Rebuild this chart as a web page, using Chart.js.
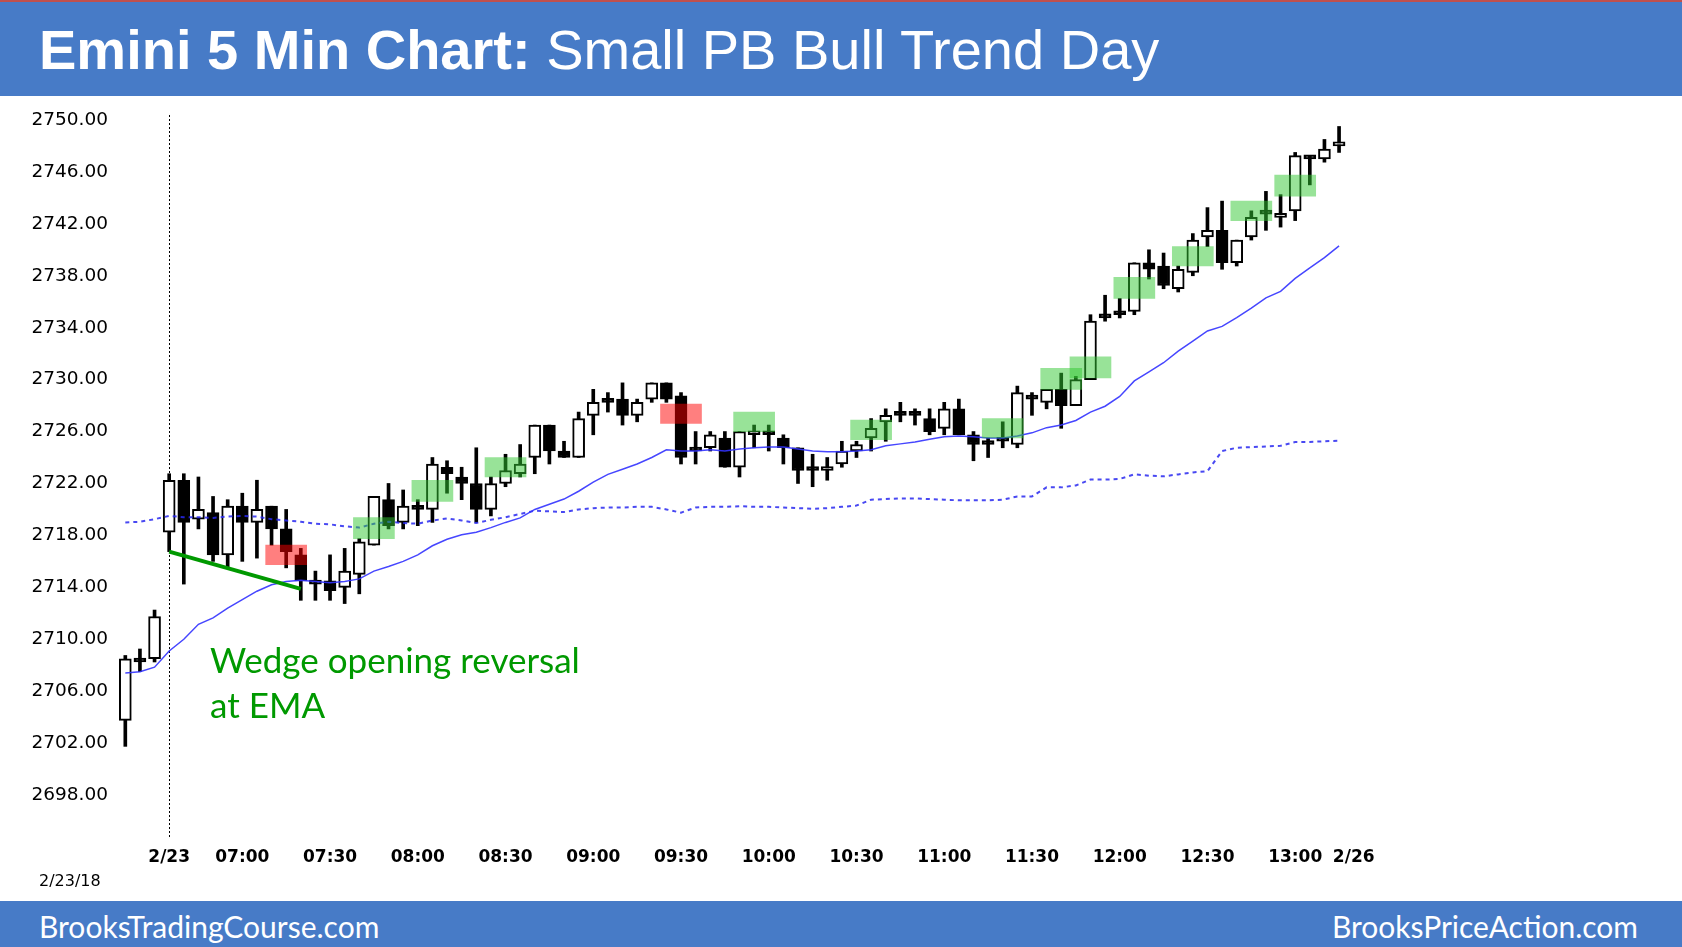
<!DOCTYPE html>
<html>
<head>
<meta charset="utf-8">
<title>Emini 5 Min Chart</title>
<script src="https://cdn.jsdelivr.net/npm/chart.js@4.4.1/dist/chart.umd.min.js"></script>
<style>
  html, body { margin: 0; padding: 0; background: #fff; }
  body { width: 1682px; height: 947px; position: relative; overflow: hidden; }
  #grafico { position: absolute; left: 0; top: 0; }
  .faixa { position: absolute; left: 0; width: 1682px; background: #477bc7; }
  #topo { top: 0; height: 96px; border-top: 2px solid #c0504d; box-sizing: border-box; }
  #rodape { top: 901px; height: 46px; }
  #titulo { position: absolute; left: 39px; top: 22px; font: 56px/56px "Liberation Sans", Arial, sans-serif; color: #fff; white-space: nowrap; }
  #titulo b { font-weight: bold; }
  .site { position: absolute; top: 911px; font: 30px/30px Lato, sans-serif; color: #fff; white-space: nowrap; }
  #site1 { left: 39px; }
  #site2 { right: 44px; }
  #nota { position: absolute; left: 210px; top: 637px; font: 35px/45px Lato, sans-serif; color: #009900; white-space: nowrap; }
  #data { position: absolute; left: 39px; top: 873px; font: 16px/16px "DejaVu Sans", sans-serif; color: #000; }
</style>
</head>
<body>
<canvas id="grafico" width="1682" height="947"></canvas>
<div id="topo" class="faixa"></div>
<div id="titulo"><b>Emini 5 Min Chart:</b> Small PB Bull Trend Day</div>
<div id="rodape" class="faixa"></div>
<div id="site1" class="site">BrooksTradingCourse.com</div>
<div id="site2" class="site">BrooksPriceAction.com</div>
<div id="nota">Wedge opening reversal<br>at EMA</div>
<div id="data">2/23/18</div>
<script>
// Barras de 5 minutos (hora de fechamento): 3 barras do fim de 2/22, a sessão de 2/23 e a abertura de 2/26
function hhmm(m) {
  return String(Math.floor(m / 60)).padStart(2, '0') + ':' + String(m % 60).padStart(2, '0');
}
const categories = ['2/22 13:05', '2/22 13:10', '2/22 13:15'];
for (let m = 6 * 60 + 35; m <= 13 * 60 + 15; m += 5) categories.push('2/23 ' + hhmm(m));
categories.push('2/26 06:35');

const opens = [2703.75, 2708.5, 2708.5,
  2718.25, 2722.25, 2719.25, 2719.75, 2716.5, 2720.25, 2719.0, 2720.25, 2718.5, 2716.5,
  2714.5, 2714.5, 2714.0, 2715.0, 2717.25, 2720.75, 2719.0, 2720.0, 2720.0, 2723.25,
  2722.5, 2722.0, 2720.0, 2722.0, 2722.75, 2724.0, 2726.5, 2724.5, 2724.0, 2727.25,
  2728.25, 2728.5, 2727.25, 2728.5, 2729.75, 2728.75, 2724.5, 2724.75, 2725.5, 2723.25,
  2725.75, 2726.0, 2725.5, 2724.75, 2723.0, 2723.0, 2723.5, 2724.5, 2725.5, 2726.75,
  2727.25, 2727.5, 2727.0, 2726.25, 2727.75, 2725.75, 2725.0, 2725.25, 2725.0, 2728.75,
  2728.25, 2729.25, 2728.0, 2730.0, 2734.75, 2735.25, 2735.25, 2739.0, 2738.75, 2737.0,
  2738.25, 2741.0, 2741.5, 2739.0, 2741.0, 2742.75, 2742.5, 2743.0, 2747.25, 2747.0,
  2748.0];
const highs = [2708.75, 2709.25, 2712.25,
  2722.75, 2722.75, 2722.5, 2721.0, 2720.75, 2721.25, 2722.25, 2720.25, 2720.0, 2717.0,
  2715.25, 2716.5, 2717.0, 2717.75, 2721.0, 2722.0, 2721.5, 2720.75, 2724.0, 2723.75,
  2723.25, 2724.75, 2722.5, 2724.25, 2725.0, 2726.5, 2726.5, 2725.25, 2727.5, 2729.25,
  2729.0, 2729.75, 2728.5, 2729.75, 2729.75, 2729.0, 2726.0, 2726.0, 2726.0, 2726.0,
  2726.5, 2726.5, 2725.75, 2724.75, 2724.25, 2724.0, 2725.25, 2725.25, 2727.0, 2727.75,
  2728.25, 2727.75, 2727.75, 2728.25, 2728.5, 2726.0, 2725.5, 2726.75, 2729.5, 2729.0,
  2729.25, 2730.5, 2730.25, 2735.0, 2736.5, 2736.25, 2739.0, 2740.0, 2739.75, 2738.75,
  2741.25, 2743.25, 2743.75, 2740.75, 2743.0, 2744.5, 2744.25, 2747.5, 2747.25, 2748.5,
  2749.5];
const lows = [2701.75, 2707.5, 2708.25,
  2716.75, 2714.25, 2718.5, 2716.0, 2715.5, 2716.0, 2716.25, 2717.25, 2715.5, 2713.0,
  2713.0, 2713.0, 2712.75, 2713.5, 2717.25, 2718.5, 2718.5, 2718.75, 2719.0, 2721.25,
  2720.75, 2719.0, 2719.5, 2721.75, 2722.5, 2722.75, 2723.5, 2724.0, 2724.0, 2725.75,
  2727.5, 2726.5, 2726.75, 2728.25, 2728.25, 2723.5, 2723.5, 2724.5, 2723.25, 2722.5,
  2724.75, 2724.5, 2723.5, 2722.0, 2721.75, 2722.25, 2723.25, 2724.0, 2724.5, 2725.25,
  2726.75, 2726.5, 2725.75, 2725.75, 2725.75, 2723.75, 2724.0, 2724.75, 2724.75, 2727.25,
  2727.75, 2726.25, 2728.0, 2730.0, 2734.5, 2734.75, 2735.0, 2737.75, 2737.0, 2736.75,
  2738.0, 2740.25, 2738.5, 2738.75, 2740.75, 2741.5, 2741.75, 2742.25, 2745.0, 2746.75,
  2747.5];
const closes = [2708.5, 2708.25, 2711.75,
  2722.25, 2719.0, 2720.0, 2716.5, 2720.25, 2719.0, 2720.0, 2718.5, 2716.75, 2714.5,
  2714.25, 2713.75, 2715.25, 2717.5, 2721.0, 2718.75, 2720.25, 2720.0, 2723.5, 2722.75,
  2722.0, 2720.0, 2722.0, 2723.0, 2723.5, 2726.5, 2724.5, 2724.0, 2727.0, 2728.25,
  2728.25, 2727.25, 2728.25, 2729.75, 2728.5, 2724.0, 2724.5, 2725.75, 2723.25, 2726.0,
  2726.0, 2725.75, 2724.75, 2723.0, 2723.0, 2723.25, 2724.5, 2725.0, 2726.25, 2727.25,
  2727.25, 2727.25, 2726.0, 2727.75, 2725.75, 2725.0, 2725.0, 2725.25, 2729.0, 2728.5,
  2729.25, 2728.0, 2730.0, 2734.5, 2734.75, 2735.0, 2739.0, 2738.5, 2737.25, 2738.5,
  2740.75, 2741.5, 2739.0, 2740.75, 2742.5, 2742.75, 2742.75, 2747.25, 2747.0, 2747.75,
  2748.25];

// Média móvel exponencial (linha azul contínua)
const ema = [2707.4, 2707.5, 2707.85,
  2709.1, 2710.0, 2711.15, 2711.65, 2712.4, 2713.05, 2713.7, 2714.2, 2714.45, 2714.55,
  2714.45, 2714.35, 2714.45, 2714.65, 2715.25, 2715.6, 2716.0, 2716.5, 2717.2, 2717.7,
  2718.05, 2718.25, 2718.6, 2719.0, 2719.35, 2720.0, 2720.4, 2720.8, 2721.4, 2722.1,
  2722.7, 2723.1, 2723.5, 2724.0, 2724.6, 2724.5, 2724.5, 2724.6, 2724.5, 2724.65,
  2724.75, 2724.8, 2724.8, 2724.65, 2724.5, 2724.45, 2724.45, 2724.5, 2724.6, 2724.9,
  2725.05, 2725.2, 2725.4, 2725.6, 2725.65, 2725.6, 2725.5, 2725.5, 2725.65, 2725.9,
  2726.3, 2726.5, 2726.85, 2727.5, 2727.95, 2728.7, 2729.9, 2730.6, 2731.3, 2732.2,
  2732.97, 2733.75, 2734.1, 2734.77, 2735.5, 2736.3, 2736.8, 2737.8, 2738.6, 2739.4,
  2740.3];
// Linha pontilhada azul
const dotted = [2719.0, 2719.05, 2719.25,
  2719.5, 2719.4, 2719.4, 2719.35, 2719.45, 2719.5, 2719.45, 2719.25, 2719.15, 2719.05,
  2718.9, 2718.85, 2718.7, 2718.6, 2718.9, 2719.05, 2718.95, 2718.9, 2719.15, 2719.3,
  2719.15, 2718.95, 2719.2, 2719.4, 2719.65, 2719.9, 2719.85, 2719.8, 2720.0, 2720.1,
  2720.15, 2720.15, 2720.2, 2720.2, 2720.0, 2719.75, 2720.15, 2720.2, 2720.2, 2720.25,
  2720.2, 2720.2, 2720.15, 2720.1, 2720.05, 2720.1, 2720.2, 2720.3, 2720.75, 2720.8,
  2720.85, 2720.85, 2720.8, 2720.75, 2720.7, 2720.7, 2720.7, 2720.75, 2721.0, 2721.0,
  2721.7, 2721.7, 2721.85, 2722.3, 2722.3, 2722.35, 2722.7, 2722.6, 2722.55, 2722.7,
  2722.85, 2722.95, 2724.5, 2724.75, 2724.8, 2724.85, 2724.9, 2725.2, 2725.2, 2725.25,
  2725.3];

// Caixas verdes e vermelhas (barra central, faixa de preço)
const greenBars = [14, 18, 23, 40, 48, 57, 61, 63, 66, 70, 74, 77];
const greenLo = [2717.75, 2720.625, 2722.5, 2726.0, 2725.375, 2725.5, 2729.25, 2730.125, 2736.25, 2738.75, 2742.25, 2744.125];
const greenHi = [2719.375, 2722.25, 2724.0, 2727.5, 2726.875, 2727.0, 2730.875, 2731.75, 2737.875, 2740.25, 2743.75, 2745.75];
const redBars = [8, 35];
const redLo = [2715.75, 2726.625];
const redHi = [2717.25, 2728.125];

// Linha da cunha (barra, preço)
const wedgeBars = [0, 9];
const wedgePrices = [2716.75, 2713.875];

const yTicks = [2698, 2702, 2706, 2710, 2714, 2718, 2722, 2726, 2730, 2734, 2738, 2742, 2746, 2750];

const preBars = 3;           // barras antes da sessão de 2/23
const sessionStart = preBars; // índice da primeira barra de 2/23

function boxData(bars, lo, hi) {
  const d = categories.map(() => null);
  bars.forEach((b, k) => { d[b + preBars] = [lo[k], hi[k]]; });
  return d;
}
const wedgeData = categories.map(() => null);
wedgeBars.forEach((b, k) => { wedgeData[b + preBars] = wedgePrices[k]; });

// Linha vertical pontilhada no início da sessão
const separador = {
  id: 'separador',
  beforeDatasetsDraw(chart) {
    const ctx = chart.ctx;
    const x = Math.round(chart.scales.x.getPixelForValue(sessionStart)) + 0.5;
    ctx.save();
    ctx.strokeStyle = '#000';
    ctx.lineWidth = 1;
    ctx.setLineDash([2, 2]);
    ctx.beginPath();
    ctx.moveTo(x, chart.chartArea.top + 8);
    ctx.lineTo(x, chart.chartArea.bottom + 16);
    ctx.stroke();
    ctx.restore();
  }
};

new Chart(document.getElementById('grafico'), {
  type: 'bar',
  data: {
    labels: categories,
    datasets: [
      {
        label: 'green',
        data: boxData(greenBars, greenLo, greenHi),
        backgroundColor: 'rgba(50, 200, 50, 0.5)',
        borderWidth: 0,
        barThickness: 41,
        grouped: false,
        order: 0
      },
      {
        label: 'red',
        data: boxData(redBars, redLo, redHi),
        backgroundColor: 'rgba(255, 0, 0, 0.5)',
        borderWidth: 0,
        barThickness: 41,
        grouped: false,
        order: 0
      },
      {
        type: 'line',
        label: 'wedge',
        data: wedgeData,
        borderColor: '#009900',
        borderWidth: 4,
        pointRadius: 0,
        spanGaps: true,
        order: 1
      },
      {
        type: 'line',
        label: 'ema',
        data: ema,
        borderColor: 'rgba(50, 50, 255, 0.9)',
        borderWidth: 1.5,
        pointRadius: 0,
        tension: 0,
        order: 1
      },
      {
        type: 'line',
        label: 'dotted',
        data: dotted,
        borderColor: 'rgba(40, 40, 240, 0.85)',
        borderWidth: 2,
        borderDash: [4, 4],
        pointRadius: 0,
        tension: 0,
        order: 1
      },
      {
        label: 'body',
        data: opens.map((o, i) => [o, closes[i]]),
        backgroundColor: opens.map((o, i) => (closes[i] > o ? '#fff' : '#000')),
        borderColor: '#000',
        borderWidth: 2,
        borderSkipped: false,
        barThickness: 12,
        minBarLength: 4,
        grouped: false,
        order: 2
      },
      {
        label: 'wick',
        data: lows.map((l, i) => [l, highs[i]]),
        backgroundColor: '#000',
        borderWidth: 0,
        barThickness: 3,
        grouped: false,
        order: 3
      }
    ]
  },
  options: {
    responsive: false,
    animation: false,
    events: [],
    layout: { padding: { top: 107, right: 321, bottom: 0, left: 0 } },
    plugins: { legend: { display: false }, tooltip: { enabled: false } },
    scales: {
      x: {
        offset: true,
        grid: { display: false, drawTicks: false },
        border: { display: false },
        afterFit(s) { s.height = 126; },
        ticks: {
          autoSkip: false,
          maxRotation: 0,
          padding: 26,
          color: '#000',
          font: { family: 'DejaVu Sans', size: 17, weight: 'bold' },
          callback(v, idx) {
            const [d, t] = categories[idx].split(' ');
            if (t === '06:35') return d;
            if (d === '2/23' && (t.endsWith(':00') || t.endsWith(':30'))) return t;
            return '';
          }
        }
      },
      y: {
        min: 2696,
        max: 2751,
        grid: { display: false, drawTicks: false },
        border: { display: false },
        afterFit(s) { s.width = 118; },
        afterBuildTicks(s) { s.ticks = yTicks.map(v => ({ value: v })); },
        ticks: {
          padding: 10,
          color: '#000',
          font: { family: 'DejaVu Sans', size: 18.5 },
          callback: v => v.toFixed(2)
        }
      }
    }
  },
  plugins: [separador]
});
</script>
</body>
</html>
